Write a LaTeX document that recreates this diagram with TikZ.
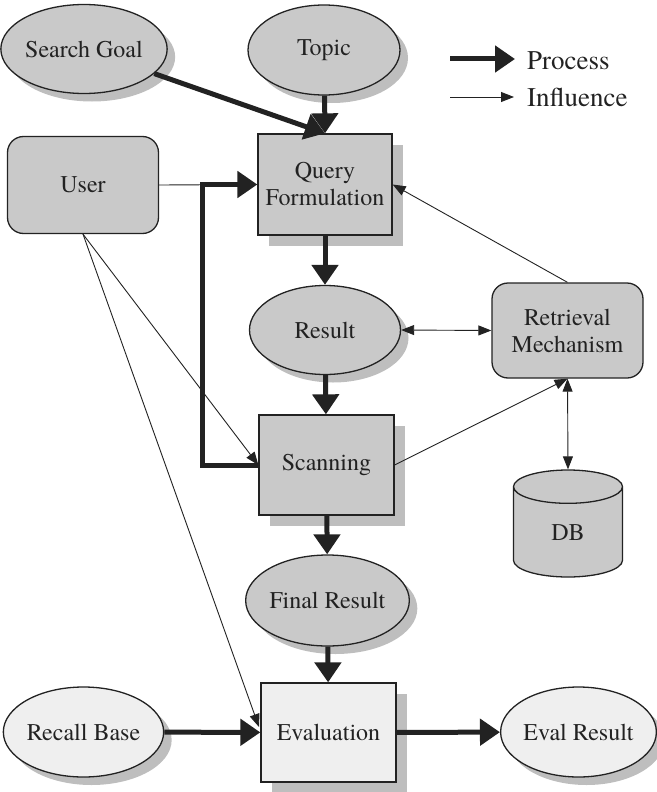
\documentclass[tikz,border=0pt]{standalone}
\usepackage{fontspec}
\setmainfont{texgyretermes-regular.otf}
\usetikzlibrary{shapes.geometric,arrows.meta,shadows}
\definecolor{nodegray}{HTML}{C9C9C9}
\definecolor{shadegray}{HTML}{BEBEBE}
\definecolor{lightfill}{HTML}{EFEFEF}
\definecolor{linec}{HTML}{222222}
\tikzset{
  base/.style={draw=linec, line width=1.3pt, inner sep=0pt, align=center,
    text=linec, font=\fontsize{24}{27}\selectfont},
  eshadow/.style={drop shadow={shadow xshift=8pt, shadow yshift=-8pt, fill=shadegray, opacity=1}},
  bshadow/.style={drop shadow={shadow xshift=11pt, shadow yshift=-11pt, fill=shadegray, opacity=1}},
  ell/.style={base, ellipse, fill=nodegray, eshadow},
  lell/.style={base, ellipse, fill=lightfill, eshadow},
  sqbox/.style={base, rectangle, fill=nodegray, bshadow},
  lsqbox/.style={base, rectangle, fill=lightfill, bshadow},
  rbox/.style={base, rectangle, rounded corners=16pt, fill=nodegray},
  dbshape/.style={base, cylinder, shape border rotate=90, aspect=1.0, fill=nodegray},
  proc/.style={draw=linec, line width=5pt, line join=miter, -{Triangle[length=20pt,width=26pt]}},
  infl/.style={draw=linec, line width=0.9pt, -{Triangle[length=13pt,width=10pt]}},
  biinfl/.style={draw=linec, line width=0.9pt, {Triangle[length=13pt,width=10pt]}-{Triangle[length=13pt,width=10pt]}},
  legtext/.style={text=linec, inner sep=0pt, anchor=west, font=\fontsize{27}{30}\selectfont},
}
\begin{document}
\begin{tikzpicture}[x=1pt,y=-1pt]
\useasboundingbox (0,0) rectangle (656,792);
% nodes
\node[ell, minimum width=154pt, minimum height=89pt] (sg) at (84,49) {Search Goal};
\node[ell, minimum width=152pt, minimum height=90pt] (topic) at (324,50) {Topic};
\node[rbox, minimum width=151pt, minimum height=97pt] (user) at (83,185) {User};
\node[sqbox, minimum width=134pt, minimum height=101pt] (qf) at (325,184.5) {Query\\Formulation};
\node[ell, minimum width=151pt, minimum height=89pt] (result) at (325,330) {Result};
\node[rbox, minimum width=151pt, minimum height=95pt] (ret) at (567.5,330.5) {Retrieval\\Mechanism};
\node[sqbox, minimum width=135pt, minimum height=100pt] (scan) at (326.5,465) {Scanning};
\node[dbshape, anchor=shape center, minimum width=109pt, minimum height=107pt] (db) at (568,523.5) {DB};
\node[ell, minimum width=151pt, minimum height=91pt] (final) at (327.5,600.5) {Final Result};
\node[lsqbox, minimum width=135pt, minimum height=99pt] (eval) at (328.5,732.5) {Evaluation};
\node[lell, minimum width=153pt, minimum height=90pt] (recall) at (83.5,732) {Recall Base};
\node[lell, minimum width=149pt, minimum height=90pt] (evalres) at (578.5,732) {Eval Result};
% legend
\coordinate (lp1) at (450,59);
\coordinate (lp2) at (515,59);
\coordinate (li1) at (450,97);
\coordinate (li2) at (514,97);
\node[legtext] (lptext) at (527,61) {Process};
\node[legtext] (litext) at (527,97) {Influence};
\draw[proc] (lp1) -- (lp2);
\draw[infl] (li1) -- (li2);
% coordinates
\coordinate (loopB) at (202,465);
\coordinate (loopT) at (202,184.5);
\coordinate (evin) at (259,727);
% influence connectors
\draw[infl, -] (user.east) -- (qf.west);
\draw[infl] (ret.north) -- (qf.east);
\draw[biinfl] (result.east) -- (ret.west);
\draw[infl] (scan.east) -- (ret.south);
\draw[biinfl] (ret.south) -- (db.top);
\draw[infl] (user.south) -- (scan.west);
\draw[infl] (user.south) -- (evin);
% process connectors
\draw[proc] (sg) -- (qf.north);
\draw[proc] (topic) -- (qf.north);
\draw[proc] (scan.west) -- (loopB) -- (loopT) -- (qf.west);
\draw[proc] (qf) -- (result);
\draw[proc] (result) -- (scan);
\draw[proc] (scan) -- (final);
\draw[proc] (final) -- (eval);
\draw[proc] (recall) -- (eval);
\draw[proc] (eval) -- (evalres);
\end{tikzpicture}
\end{document}
